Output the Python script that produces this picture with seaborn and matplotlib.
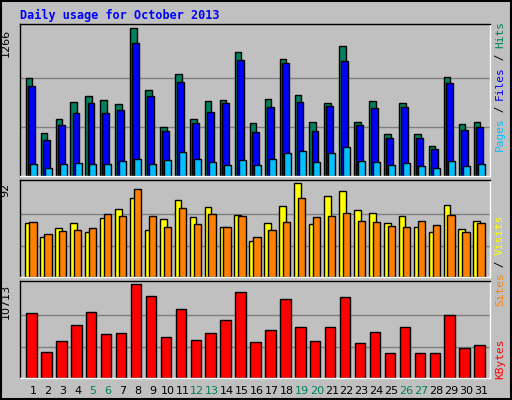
import matplotlib
matplotlib.use("Agg")
import matplotlib.pyplot as plt
import seaborn as sns
import numpy as np

sns.set_theme(style="white")
plt.rcParams['font.family'] = ['DejaVu Sans Mono', 'DejaVu Sans']

days = list(range(1, 32))
hits = [844,370,485,637,689,655,620,1266,741,422,879,491,646,655,1068,456,663,1008,698,465,629,1111,465,646,362,629,362,258,853,448,465]
files = [775,310,439,543,629,543,568,1137,689,388,810,456,551,629,999,379,594,973,637,388,603,990,439,586,327,594,327,233,801,396,422]
pages = [103,69,103,112,103,103,129,146,103,138,207,146,121,95,138,95,146,198,215,121,198,250,129,121,95,112,86,69,129,86,103]
visits = [53,39,48,53,44,58,66,77,46,57,75,59,68,49,61,35,53,69,92,52,79,84,65,63,53,60,49,44,70,47,55]
sites = [54,42,45,46,48,62,60,86,60,49,67,52,62,49,60,39,46,54,77,59,60,63,55,54,50,49,55,51,61,44,53]
kbytes = [7390,2932,4223,5982,7507,5044,5161,10713,9384,4692,7859,4340,5161,6569,9736,4105,5513,9032,5748,4223,5748,9267,3988,5279,2815,5748,2815,2815,7155,3402,3754]
weekends = [5, 6, 12, 13, 19, 20, 26, 27]
title = "Daily usage for October 2013"

W, H = 512, 400
fig = plt.figure(figsize=(W/100, H/100), dpi=100, facecolor="#C0C0C0")
x = np.array(days, dtype=float)
bg = "#C0C0C0"

def mkax(top, bottom):
    ax = fig.add_axes([20/W, 1 - bottom/H, 470/W, (bottom - top)/H])
    ax.set_facecolor(bg)
    ax.set_xlim(0.13, 31.6)
    ax.set_xticks([])
    ax.set_yticks([])
    for s in ax.spines.values():
        s.set_color("black"); s.set_linewidth(1)
    ax.spines['right'].set_color("white"); ax.spines['bottom'].set_color("white")
    return ax

def grid(ax, vmax):
    for f in (1/3, 2/3):
        ax.axhline(vmax*f, color="#808080", lw=1, zorder=0)
    ax.set_ylim(0, vmax*1.03)
    ax.text(-0.02, 1-0.03/1.03, f"{vmax}", transform=ax.transAxes, rotation=90,
            ha="right", va="top", fontsize=8, family="DejaVu Sans", color="black")

ek = dict(edgecolor="black", linewidth=1, align="edge", zorder=2)
ax1 = mkax(24, 176)
grid(ax1, 1266)
ax1.bar(x - 0.49, hits, width=0.44, color="#00805C", **ek)
ax1.bar(x - 0.35, files, width=0.46, color="#0000FF", **ek)
ax1.bar(x - 0.22, pages, width=0.47, color="#00C0FF", **ek)

ax2 = mkax(180, 277)
grid(ax2, 92)
ax2.bar(x - 0.51, visits, width=0.45, color="#FFFF00", **ek)
ax2.bar(x - 0.25, sites, width=0.49, color="#FF8000", **ek)

ax3 = mkax(281, 378)
grid(ax3, 10713)
ax3.bar(x - 0.45, kbytes, width=0.7, color="#FF0000", **ek)

for d in days:
    ax3.text(d, -0.08, str(d), transform=ax3.get_xaxis_transform(), ha="center", va="top",
             fontsize=8, family="DejaVu Sans",
             color="#00805C" if d in weekends else "black")

fig.text(20/W, 1 - 15/H, title, color="#0000FF", fontsize=8.5, fontweight="bold", va="center")

def rlabel(y_bottom, parts):
    # parts listed bottom to top; y_bottom in pixels from top
    ch = 6.4
    y = y_bottom
    for t, c in parts:
        n = len(t)
        fig.text(500/W, 1 - (y - n*ch/2)/H, t, color=c, rotation=90, fontsize=8,
                 ha="center", va="center")
        y -= n*ch

rlabel(150, [("Pages", "#00C0FF"), (" / ", "#000000"), ("Files", "#0000FF"), (" / ", "#000000"), ("Hits", "#00805C")])
rlabel(305, [("Sites", "#FF8000"), (" / ", "#000000"), ("Visits", "#FFFF00")])
rlabel(378, [("KBytes", "#FF0000")])

fig.patches.append(plt.Rectangle((0.002, 0.002), 0.996, 0.996, transform=fig.transFigure,
                                 fill=False, edgecolor="black", lw=1.5))
fig.savefig("out.png", dpi=100, facecolor=fig.get_facecolor())
